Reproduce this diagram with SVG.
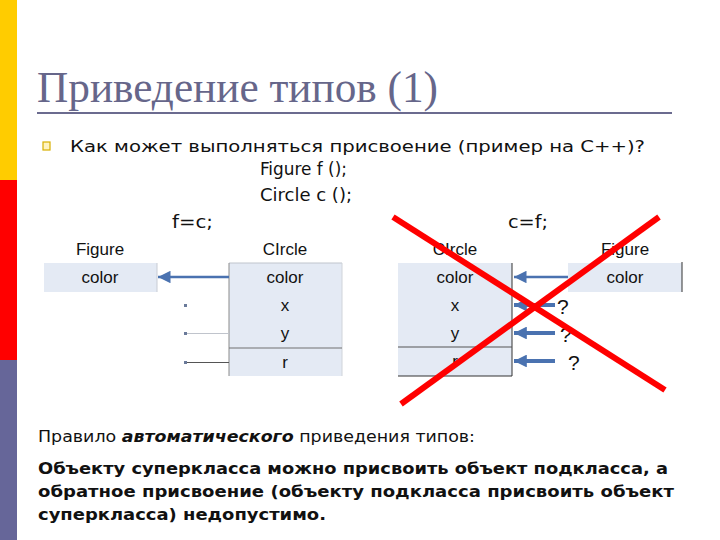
<svg xmlns="http://www.w3.org/2000/svg" width="720" height="540" viewBox="0 0 720 540">
<defs>
<style>
.sans{font-family:"Liberation Sans",Arial,sans-serif;fill:#111}
.lbl{font-family:"Liberation Sans",Arial,sans-serif;font-size:17px;fill:#111;text-anchor:middle}
.cond{font-family:"DejaVu Sans Condensed","DejaVu Sans",sans-serif;fill:#111}
.dv{font-family:"DejaVu Sans",Verdana,sans-serif;fill:#111}
.cell{fill:#e4eaf4}
.arr{stroke:#4a72b0;fill:none}
.x{stroke:#ff0000;stroke-width:6;stroke-linecap:butt}
</style>
<marker id="ah" viewBox="0 0 10 10" refX="10" refY="5" markerWidth="5" markerHeight="5" orient="auto" markerUnits="strokeWidth">
<path d="M0,0 L10,5 L0,10 z" fill="#4a72b0"/>
</marker>
<marker id="ah2" viewBox="0 0 10 10" refX="10" refY="5" markerWidth="3.2" markerHeight="3.2" orient="auto" markerUnits="strokeWidth">
<path d="M0,0 L10,5 L0,10 z" fill="#4a72b0"/>
</marker>
</defs>
<rect width="720" height="540" fill="#ffffff"/>
<g id="sidebar">
<rect x="0" y="0" width="17" height="180" fill="#ffcc00"/>
<rect x="0" y="180" width="17" height="180" fill="#ff0000"/>
<rect x="0" y="360" width="17" height="180" fill="#666699"/>
</g>
<g id="title">
<text x="37" y="102" font-family="Liberation Serif,Times New Roman,serif" font-size="44" fill="#66668a" textLength="401" lengthAdjust="spacingAndGlyphs">Приведение типов (1)</text>
<line x1="37" y1="113" x2="672" y2="113" stroke="#6b6b8f" stroke-width="2"/>
</g>
<g id="question">
<rect x="43" y="142" width="7" height="8" fill="#fff3c0" stroke="#d8b000" stroke-width="1.2"/>
<text class="dv" x="70" y="152" font-size="16" textLength="575" lengthAdjust="spacingAndGlyphs">Как может выполняться присвоение (пример на C++)?</text>
<text class="cond" x="260" y="175" font-size="17" textLength="87" lengthAdjust="spacingAndGlyphs">Figure f ();</text>
<text class="cond" x="260" y="201" font-size="17" textLength="92" lengthAdjust="spacingAndGlyphs">Circle c ();</text>
<text class="dv" x="172" y="228" font-size="18" textLength="41" lengthAdjust="spacingAndGlyphs">f=c;</text>
<text class="dv" x="508" y="228" font-size="18" textLength="40" lengthAdjust="spacingAndGlyphs">c=f;</text>
</g>
<g id="left-figure">
<text class="lbl" x="100" y="255">Figure</text>
<rect class="cell" x="44" y="263" width="113" height="29"/>
<line x1="157" y1="263" x2="157" y2="292" stroke="#c8ccd4"/>
<text class="lbl" x="100" y="283">color</text>
</g>
<g id="left-circle">
<text class="lbl" x="285" y="255">CIrcle</text>
<rect class="cell" x="229" y="263" width="113" height="113"/>
<line x1="229" y1="263" x2="342" y2="263" stroke="#bfc4cc"/>
<line x1="229" y1="263" x2="229" y2="376" stroke="#8a8a8a"/>
<line x1="342" y1="263" x2="342" y2="376" stroke="#d0d4da"/>
<line x1="229" y1="348" x2="342" y2="348" stroke="#707070"/>
<text class="lbl" x="285" y="283">color</text>
<text class="lbl" x="285" y="311">x</text>
<text class="lbl" x="285" y="339">y</text>
<text class="lbl" x="285" y="368">r</text>
</g>
<g id="right-circle">
<text class="lbl" x="455" y="255">CIrcle</text>
<rect class="cell" x="398" y="263" width="114" height="113"/>
<line x1="512" y1="263" x2="512" y2="376" stroke="#333"/>
<line x1="398" y1="376" x2="512" y2="376" stroke="#333"/>
<line x1="398" y1="347" x2="512" y2="347" stroke="#555"/>
<text class="lbl" x="455" y="283">color</text>
<text class="lbl" x="455" y="311">x</text>
<text class="lbl" x="455" y="339">y</text>
<text class="lbl" x="455" y="367">r</text>
</g>
<g id="right-figure">
<text class="lbl" x="625" y="255">Figure</text>
<rect class="cell" x="568" y="263" width="114" height="29"/>
<line x1="682" y1="262" x2="682" y2="292" stroke="#333"/>
<text class="lbl" x="625" y="283">color</text>
</g>
<g id="connectors">
<line class="arr" x1="229" y1="277" x2="158" y2="277" stroke-width="2.5" marker-end="url(#ah)"/>
<rect x="184" y="304" width="3" height="3" fill="#6a7a9a"/>
<rect x="184" y="332" width="3" height="3" fill="#6a7a9a"/>
<rect x="184" y="361" width="3" height="3" fill="#6a7a9a"/>
<line x1="187" y1="333.5" x2="229" y2="333.5" stroke="#c0c4cc" stroke-width="1"/>
<line x1="187" y1="362.5" x2="229" y2="362.5" stroke="#555" stroke-width="1"/>
<line class="arr" x1="568" y1="277" x2="514" y2="277" stroke-width="2.5" marker-end="url(#ah)"/>
<line class="arr" x1="555" y1="305" x2="514" y2="305" stroke-width="4" marker-end="url(#ah2)"/>
<line class="arr" x1="555" y1="333" x2="514" y2="333" stroke-width="4" marker-end="url(#ah2)"/>
<line class="arr" x1="555" y1="361" x2="514" y2="361" stroke-width="4" marker-end="url(#ah2)"/>
</g>
<g id="questions">
<text class="sans" x="557" y="314" font-size="21">?</text>
<text class="sans" x="560" y="342" font-size="21">?</text>
<text class="sans" x="568" y="370" font-size="21">?</text>
</g>
<g id="cross">
<line class="x" x1="393" y1="217" x2="665" y2="390"/>
<line class="x" x1="659" y1="217" x2="401" y2="404"/>
</g>
<g id="rule">
<text class="cond" x="38" y="442" font-size="16" textLength="437" lengthAdjust="spacingAndGlyphs">Правило <tspan font-weight="bold" font-style="italic">автоматического</tspan> приведения типов:</text>
<text class="dv" x="38" y="474" font-size="15" font-weight="bold" textLength="630" lengthAdjust="spacingAndGlyphs">Объекту суперкласса можно присвоить объект подкласса, а</text>
<text class="dv" x="38" y="497" font-size="15" font-weight="bold" textLength="636" lengthAdjust="spacingAndGlyphs">обратное присвоение (объекту подкласса присвоить объект</text>
<text class="dv" x="38" y="520" font-size="15" font-weight="bold" textLength="288" lengthAdjust="spacingAndGlyphs">суперкласса) недопустимо.</text>
</g>
</svg>
